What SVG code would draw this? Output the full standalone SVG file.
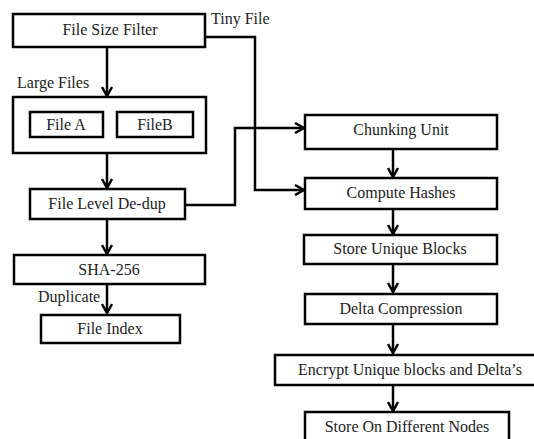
<svg xmlns="http://www.w3.org/2000/svg" width="534" height="439" viewBox="0 0 534 439">
<defs>
<style>
.box{fill:#fff;stroke:#000;stroke-width:2.5}
.t{font-family:"Liberation Serif","Times New Roman",serif;font-size:16px;fill:#222;text-anchor:middle}
.l{font-family:"Liberation Serif","Times New Roman",serif;font-size:16px;fill:#222}
.c{fill:none;stroke:#000;stroke-width:2.5}
</style>
<marker id="ah" viewBox="0 0 12 12" refX="11" refY="6" markerWidth="12" markerHeight="12" markerUnits="userSpaceOnUse" orient="auto">
<path d="M2,1 L11,6 L2,11" fill="none" stroke="#000" stroke-width="2.5"/>
</marker>
</defs>
<rect width="534" height="439" fill="#fff"/>
<g id="connectors">
<path class="c" d="M107,47 V96" marker-end="url(#ah)"/>
<path class="c" d="M107,153 V188" marker-end="url(#ah)"/>
<path class="c" d="M107,219 V254" marker-end="url(#ah)"/>
<path class="c" d="M107,284 V313" marker-end="url(#ah)"/>
<path class="c" d="M205,37 H255 V190 H304" marker-end="url(#ah)"/>
<path class="c" d="M185,205 H235 V128 H304" marker-end="url(#ah)"/>
<path class="c" d="M393,149 V177" marker-end="url(#ah)"/>
<path class="c" d="M393,209 V234" marker-end="url(#ah)"/>
<path class="c" d="M393,264 V292" marker-end="url(#ah)"/>
<path class="c" d="M393,324 V353" marker-end="url(#ah)"/>
<path class="c" d="M393,385 V411" marker-end="url(#ah)"/>
<text class="l" x="211" y="24">Tiny File</text>
<text class="l" x="17" y="88">Large Files</text>
<text class="l" x="38" y="302">Duplicate</text>
</g>
<g id="file-size-filter"><rect class="box" x="13" y="14" width="192" height="33"/><text class="t" x="110" y="35">File Size Filter</text></g>
<g id="large-files"><rect class="box" x="13" y="97" width="193" height="56"/></g>
<g id="file-a"><rect class="box" x="30" y="112" width="73" height="25"/><text class="t" x="66" y="130">File A</text></g>
<g id="file-b"><rect class="box" x="117" y="112" width="76" height="25"/><text class="t" x="155" y="130">FileB</text></g>
<g id="file-level-dedup"><rect class="box" x="30" y="189" width="155" height="30"/><text class="t" x="107" y="209">File Level De-dup</text></g>
<g id="sha-256"><rect class="box" x="14" y="255" width="191" height="29"/><text class="t" x="109" y="275">SHA-256</text></g>
<g id="file-index"><rect class="box" x="41" y="315" width="139" height="28"/><text class="t" x="110" y="334">File Index</text></g>
<g id="chunking-unit"><rect class="box" x="305" y="115" width="192" height="34"/><text class="t" x="401" y="135">Chunking Unit</text></g>
<g id="compute-hashes"><rect class="box" x="305" y="178" width="192" height="31"/><text class="t" x="401" y="198">Compute Hashes</text></g>
<g id="store-unique-blocks"><rect class="box" x="304" y="235" width="193" height="29"/><text class="t" x="400" y="254">Store Unique Blocks</text></g>
<g id="delta-compression"><rect class="box" x="305" y="294" width="192" height="30"/><text class="t" x="401" y="314">Delta Compression</text></g>
<g id="encrypt"><rect class="box" x="275" y="355" width="262" height="30"/><text class="t" x="410" y="375">Encrypt Unique blocks and Delta’s</text></g>
<g id="store-on-different-nodes"><rect class="box" x="305" y="412" width="204" height="32"/><text class="t" x="407" y="432">Store On Different Nodes</text></g>
</svg>
